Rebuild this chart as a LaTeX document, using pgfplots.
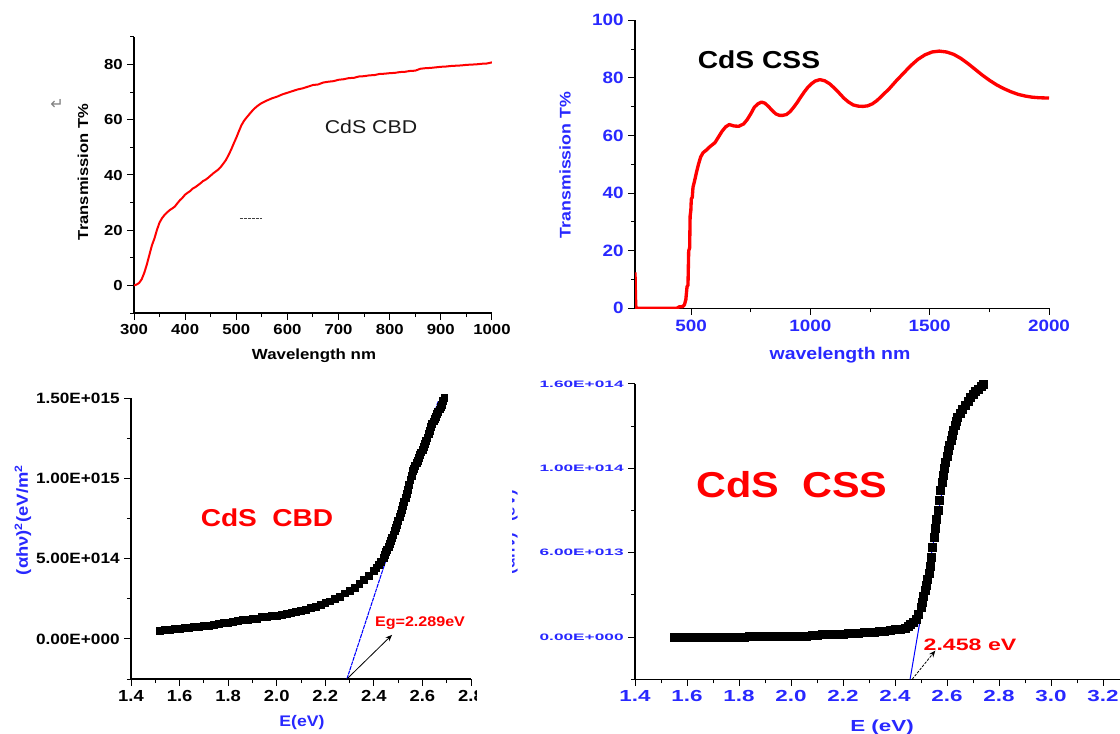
\documentclass[border=0pt]{standalone}
\usepackage{fontspec}
\setmainfont{Liberation Sans}[FakeStretch=1.15]
\newfontfamily\wideA{Liberation Sans}[FakeStretch=1.4]
\newfontfamily\wideB{Liberation Sans}[FakeStretch=1.85]
\newfontfamily\dejavu{DejaVu Sans}
\usepackage{pgfplots}
\pgfplotsset{compat=1.18}
\usetikzlibrary{arrows.meta}
\definecolor{tblue}{RGB}{40,40,255}
\definecolor{tred}{RGB}{255,0,0}
\newcommand\fs[1]{\fontsize{#1}{#1}\selectfont}
\pgfplotsset{base/.style={scale only axis, axis lines=left, axis line style={-, line width=1pt},
  tick align=outside, tick style={line width=0.75pt, black}, major tick length=5pt, minor tick length=3pt,
  /pgf/number format/assume math mode=true, /pgf/number format/1000 sep={}, scaled ticks=false}}
\begin{document}
\begin{tikzpicture}[x=0.75pt,y=0.75pt]
\useasboundingbox (0,0) rectangle (1120,733);
\clip (0,0) rectangle (1120,733);
% ---------- Panel 1 ----------
\begin{axis}[base, at={(100.5pt,315pt)}, anchor=south west, width=268.5pt, height=207pt,
  xmin=300, xmax=1000, ymin=-10, ymax=90,
  xtick={300,400,...,1000}, minor xtick={350,450,...,950},
  ytick={0,20,40,60,80}, minor ytick={-10,10,30,50,70,90},
  ticklabel style={font=\bfseries\fs{10.9pt}}]
\addplot[tred, line width=1.5pt, line join=round] coordinates {
(300,0.0)(305,0.3)(310,0.9)(315,2.2)(320,4.5)(325,7.5)(330,11.0)(335,14.5)(340,17.0)(345,20.2)
(350,22.8)(355,24.4)(360,25.6)(365,26.5)(370,27.3)(375,27.9)(380,28.6)(385,29.8)(390,30.9)(395,31.8)
(400,32.9)(405,33.6)(410,34.2)(415,35.1)(420,35.6)(425,36.3)(430,37.0)(435,37.8)(440,38.3)(445,39.0)
(450,39.8)(455,40.6)(460,41.3)(465,42.0)(470,43.0)(475,44.2)(480,45.5)(485,47.3)(490,49.2)(495,51.4)
(500,53.5)(505,55.8)(510,58.0)(515,59.6)(520,60.8)(525,61.9)(530,63.0)(535,64.0)(540,64.8)(545,65.5)
(550,66.1)(560,67.0)(570,67.8)(580,68.4)(590,69.2)(600,69.8)(610,70.4)(620,71.0)(630,71.4)(640,72.0)
(650,72.6)(660,72.8)(670,73.5)(680,73.8)(690,74.0)(700,74.5)(710,74.7)(720,75.1)(730,75.2)(740,75.7)
(750,75.8)(760,76.1)(770,76.2)(780,76.6)(790,76.7)(800,76.9)(810,77.0)(820,77.3)(830,77.4)(840,77.7)
(850,77.8)(860,78.5)(870,78.7)(880,78.8)(890,79.0)(900,79.2)(910,79.3)(920,79.5)(930,79.6)(940,79.7)
(950,79.9)(960,80.0)(970,80.1)(980,80.3)(990,80.4)(1000,80.8)};
\draw[dash pattern=on 2pt off 1pt, line width=0.75pt, black!75] (axis cs:507,24.3) -- (axis cs:550,24.3);
\end{axis}
\node[font=\bfseries\fs{11pt}] at (314,377) {Wavelength nm};
\node[font=\bfseries\fs{10.8pt}, rotate=90] at (83,561) {Transmission T\%};
\node[font=\fs{13.9pt}, text=black!90] at (371,606) {CdS CBD};
\node[font=\dejavu\fs{12pt}, text=black!50] at (57,629) {↵};
% ---------- Panel 2 ----------
\begin{axis}[base, at={(476.25pt,318.525pt)}, anchor=south west, width=310.5pt, height=216pt,
  xmin=265, xmax=2000, ymin=0, ymax=100,
  xtick={500,1000,1500,2000}, minor xtick={750,1250,1750},
  ytick={0,20,...,100}, minor ytick={10,30,50,70,90},
  ticklabel style={font=\bfseries\fs{12.3pt}, text=tblue}]
\addplot[tred, line width=2.5pt, line join=round] coordinates {
(265,12.5)(266,7.5)(268,1.0)(270,0.0)(300,0.0)(350,0.0)(400,0.0)(440,0.0)(450,0.5)(465,0.6)
(472,1.2)(478,3.0)(483,7.5)(487,8.0)(490,20.0)(494,21.0)(496,32.0)(499,34.0)(501,38.0)(505,38.5)
(508,42.0)(514,44.0)(522,47.0)(531,50.0)(540,52.5)(550,54.0)(565,55.0)(580,56.2)(600,57.5)(615,59.5)
(630,61.5)(645,63.0)(660,63.8)(680,63.3)(700,63.2)(720,64.0)(735,65.5)(750,67.5)(765,69.8)(780,71.0)
(795,71.6)(810,71.2)(825,70.0)(840,68.7)(855,67.5)(870,67.0)(885,67.0)(900,67.3)(915,68.3)(930,69.8)
(945,71.5)(960,73.4)(975,75.2)(990,76.8)(1005,78.0)(1020,78.9)(1040,79.4)(1060,79.0)(1080,78.0)(1100,76.5)
(1120,74.8)(1140,73.0)(1160,71.6)(1180,70.6)(1200,70.2)(1220,70.1)(1240,70.3)(1260,71.0)(1280,72.2)(1300,73.8)
(1330,76.2)(1360,79.0)(1390,81.6)(1420,84.2)(1450,86.4)(1480,88.0)(1510,89.0)(1540,89.3)(1570,89.0)(1600,88.2)
(1630,86.8)(1660,85.0)(1690,83.0)(1720,81.0)(1750,79.2)(1780,77.6)(1810,76.3)(1840,75.2)(1870,74.3)(1900,73.7)
(1930,73.3)(1960,73.1)(2000,73.0)};
\end{axis}
\node[font=\bfseries\fs{18.4pt}] at (759,673) {CdS CSS};
\node[font=\bfseries\fs{12.7pt}, text=tblue] at (840,378) {wavelength nm};
\node[font=\bfseries\fs{11.6pt}, text=tblue, rotate=90] at (565,568) {Transmission T\%};
% ---------- Panel 3 ----------
\begin{axis}[base, at={(98.25pt,40.5pt)}, anchor=south west, width=255pt, height=210.75pt,
  xmin=1.4, xmax=2.8, ymin=-0.25, ymax=1.5,
  xtick={1.4,1.6,1.8,2.0,2.2,2.4,2.6,2.8}, xticklabels={1.4,1.6,1.8,2.0,2.2,2.4,2.6,2.8},
  minor xtick={1.5,1.7,1.9,2.1,2.3,2.5,2.7},
  ytick={0,0.5,1,1.5}, yticklabels={0.00E+000,5.00E+014,1.00E+015,1.50E+015},
  minor ytick={-0.25,0.25,0.75,1.25},
  yticklabel style={font=\bfseries\fs{11.2pt}},
  xticklabel style={font=\bfseries\fs{12pt}}]
\addplot[only marks, mark=square*, mark size=2.6pt, black] coordinates {
(1.52,0.048)(1.54,0.056)(1.56,0.055)(1.58,0.061)(1.60,0.063)(1.62,0.069)(1.64,0.070)(1.66,0.075)(1.68,0.077)(1.70,0.082)
(1.72,0.084)(1.74,0.090)(1.76,0.092)(1.78,0.099)(1.80,0.101)(1.82,0.107)(1.84,0.110)(1.86,0.117)(1.88,0.119)(1.90,0.126)
(1.92,0.128)(1.94,0.135)(1.96,0.138)(1.98,0.144)(2.00,0.146)(2.02,0.152)(2.04,0.157)(2.06,0.162)(2.08,0.171)(2.10,0.176)
(2.12,0.184)(2.14,0.191)(2.16,0.202)(2.18,0.211)(2.20,0.223)(2.22,0.234)(2.24,0.251)(2.26,0.263)(2.28,0.284)(2.30,0.299)
(2.32,0.321)(2.34,0.341)(2.36,0.366)(2.38,0.391)(2.40,0.425)(2.41,0.443)(2.42,0.462)(2.43,0.482)(2.44,0.505)(2.445,0.522)
(2.45,0.540)(2.455,0.556)(2.46,0.572)(2.465,0.592)(2.47,0.611)(2.475,0.630)(2.48,0.650)(2.485,0.671)(2.49,0.692)(2.495,0.713)
(2.50,0.735)(2.505,0.758)(2.51,0.782)(2.515,0.806)(2.52,0.830)(2.525,0.855)(2.53,0.880)(2.535,0.905)(2.54,0.930)(2.545,0.960)
(2.55,0.990)(2.555,1.018)(2.56,1.045)(2.565,1.062)(2.57,1.078)(2.575,1.094)(2.58,1.110)(2.585,1.128)(2.59,1.145)(2.595,1.162)
(2.60,1.180)(2.605,1.198)(2.61,1.217)(2.615,1.236)(2.62,1.255)(2.625,1.276)(2.63,1.297)(2.635,1.318)(2.64,1.340)(2.645,1.355)
(2.65,1.370)(2.655,1.385)(2.66,1.400)(2.665,1.415)(2.67,1.430)(2.675,1.445)(2.68,1.460)(2.685,1.480)(2.69,1.500)};
\addplot[blue, line width=0.8pt, dash pattern=on 3pt off 0.6pt] coordinates {(2.289,-0.25) (2.665,1.48)};
\draw[-{Stealth[length=5pt,width=4pt]}, line width=0.6pt] (axis cs:2.289,-0.25) -- (axis cs:2.475,0.025);
\end{axis}
\fill[white] (477,20) rectangle (500,45);
\node[font=\bfseries\fs{18.3pt}, text=tred] at (267,215) {CdS\ \ CBD};
\node[font=\bfseries\fs{10.5pt}, text=tred] at (420,110) {Eg=2.289eV};
\node[font=\bfseries\fs{11.5pt}, text=tblue] at (302,10) {E(eV)};
\node[font=\bfseries\fs{12pt}, text=tblue, rotate=90] at (23,213) {(αhν)\textsuperscript{2}(eV/m\textsuperscript{2}};
% ---------- Panel 4 ----------
\begin{axis}[base, at={(476.25pt,40.275pt)}, anchor=south west, width=370.5pt, height=221.5pt,
  xmin=1.4, xmax=3.3, ymin=-2.5, ymax=15,
  xtick={1.4,1.6,1.8,2.0,2.2,2.4,2.6,2.8,3.0,3.2}, xticklabels={1.4,1.6,1.8,2.0,2.2,2.4,2.6,2.8,3.0,3.2},
  minor xtick={1.5,1.7,1.9,2.1,2.3,2.5,2.7,2.9,3.1,3.3},
  ytick={0,5,10,15}, yticklabels={0.00E+000,6.00E+013,1.00E+014,1.60E+014},
  minor ytick={-2.5,2.5,7.5,12.5},
  xticklabel style={font=\wideA\bfseries\fs{12pt}, text=tblue},
  yticklabel style={font=\wideB\bfseries\fs{7pt}, text=tblue}]
\addplot[only marks, mark=square*, mark size=3pt, black] coordinates {
(1.55,0.00)(1.56,0.00)(1.58,0.00)(1.60,0.00)(1.62,0.00)(1.64,0.00)(1.66,0.00)(1.68,0.00)(1.70,0.00)(1.72,0.00)
(1.74,0.01)(1.76,0.01)(1.78,0.01)(1.80,0.01)(1.82,0.02)(1.84,0.04)(1.86,0.04)(1.88,0.04)(1.90,0.04)(1.92,0.05)
(1.94,0.05)(1.96,0.05)(1.98,0.06)(2.00,0.06)(2.02,0.06)(2.04,0.07)(2.06,0.07)(2.08,0.08)(2.10,0.09)(2.12,0.15)
(2.14,0.16)(2.16,0.17)(2.18,0.18)(2.20,0.19)(2.22,0.21)(2.24,0.22)(2.26,0.24)(2.28,0.26)(2.30,0.28)(2.32,0.30)
(2.34,0.33)(2.36,0.36)(2.38,0.40)(2.40,0.44)(2.42,0.49)(2.44,0.55)(2.45,0.65)(2.46,0.78)(2.47,0.90)(2.48,1.05)
(2.49,1.35)(2.50,1.75)(2.505,2.05)(2.51,2.40)(2.515,2.75)(2.52,3.05)(2.525,3.45)(2.53,3.80)(2.535,4.20)(2.54,4.75)
(2.545,5.30)(2.55,5.90)(2.555,6.45)(2.56,7.00)(2.565,7.50)(2.57,8.10)(2.575,8.70)(2.58,9.20)(2.585,9.60)(2.59,10.00)
(2.595,10.35)(2.60,10.70)(2.605,11.05)(2.61,11.35)(2.615,11.65)(2.62,11.95)(2.625,12.25)(2.63,12.55)(2.635,12.80)(2.64,13.00)
(2.65,13.25)(2.66,13.50)(2.67,13.75)(2.68,14.00)(2.69,14.20)(2.70,14.40)(2.71,14.55)(2.72,14.70)(2.73,14.85)(2.74,15.00)};
\addplot[blue, line width=0.75pt] coordinates {(2.458,-2.5) (2.626,12.7)};
\draw[-{Stealth[length=5pt,width=4pt]}, line width=0.6pt, dash pattern=on 2pt off 1pt] (axis cs:2.466,-2.5) -- (axis cs:2.555,-0.8);
\end{axis}
\node[font=\bfseries\fs{27pt}, text=tred] at (792,248) {CdS\ \ CSS};
\node[font=\wideA\bfseries\fs{12.4pt}, text=tred] at (970,88) {2.458 eV};
\node[font=\wideA\bfseries\fs{12pt}, text=tblue] at (882,6) {E (eV)};
\begin{scope}
\clip (512,150) rectangle (522,265);
\node[font=\bfseries\fs{11pt}, text=tblue, rotate=90] at (510,204) {(αhν)$^2$ (eV)$^2$};
\end{scope}
\end{tikzpicture}
\end{document}
